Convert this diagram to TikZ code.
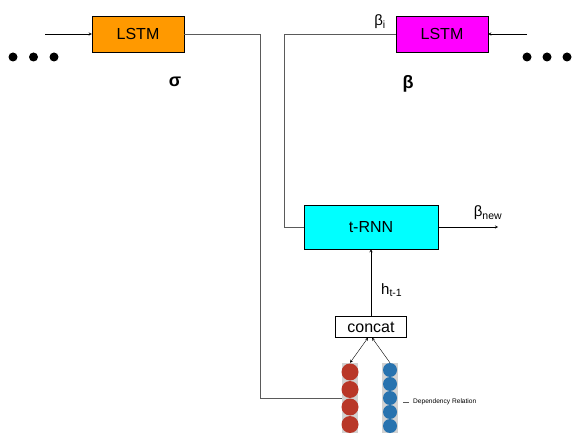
\documentclass[tikz,border=0pt]{standalone}
\usepackage{fontspec}
\setmainfont{Liberation Sans}
\usetikzlibrary{arrows}
\definecolor{lstmorange}{RGB}{255,153,0}
\definecolor{lstmpink}{RGB}{255,0,255}
\definecolor{rnncyan}{RGB}{0,255,255}
\definecolor{ballred}{RGB}{185,55,40}
\definecolor{ballblue}{RGB}{40,115,175}
\definecolor{wiregray}{RGB}{90,90,90}
\tikzstyle{box} = [rectangle, draw=black, text centered, inner sep=0, font=\fontsize{16}{16}\selectfont]
\tikzstyle{dot} = [shape=circle, minimum size=9pt, inner sep=0, fill=black]
\tikzstyle{arrow} = [thin,->,>=stealth]
\tikzstyle{wire} = [thin,wiregray]
\tikzstyle{column} = [rectangle, minimum width=16pt, minimum height=70pt, inner sep=0, fill=gray!35]
\tikzstyle{redball} = [shape=circle, minimum size=17pt, inner sep=0, fill=ballred]
\tikzstyle{blueball} = [shape=circle, minimum size=14pt, inner sep=0, fill=ballblue]
\tikzstyle{lbl} = [inner sep=0, font=\fontsize{15}{15}\selectfont]

\begin{document}
\begin{tikzpicture}[x=1pt,y=-1pt]
\useasboundingbox (0,0) rectangle (573,438);

% the two LSTMs
\node[box, fill=lstmorange, minimum width=92pt, minimum height=36pt] (lstmL) at (138,34) {LSTM};
\node[box, fill=lstmpink, minimum width=92pt, minimum height=36pt] (lstmR) at (442,34) {LSTM};
\coordinate (inL) at (45,34);
\coordinate (inR) at (527,34);
\draw[arrow] (inL) -- (lstmL.west);
\draw[arrow] (inR) -- (lstmR.east);

\foreach \x in {0,1,2}{
	\node[dot] (dl\x) at (13+20.5*\x,57) {};
	\node[dot] (dr\x) at (527+20*\x,57) {};
	}

\node[lbl, font=\bfseries\fontsize{18}{18}\selectfont] (sig) at (175,82) {σ};
\node[lbl, font=\bfseries\fontsize{18}{18}\selectfont] (bet) at (408,84) {β};
\node[lbl, anchor=south east] (betai) at (386,29) {β\textsubscript{i}};

% t-RNN and its output
\node[box, fill=rnncyan, minimum width=134pt, minimum height=44pt] (trnn) at (371,227) {t-RNN};
\coordinate (out) at (498,227);
\draw[arrow] (trnn.east) -- (out);
\node[lbl] (betanew) at (488,213) {β\textsubscript{new}};

% concat and the embeddings
\node[box, minimum width=71pt, minimum height=21pt] (concat) at (371,327) {concat};
\draw[arrow] (concat.north) -- (trnn.south);
\node[lbl, anchor=west] (hprev) at (381,290) {h\textsubscript{t-1}};

\node[column] (redcol) at (350,398) {};
\node[column] (bluecol) at (390,398) {};
\foreach \k in {0,...,3}
	\node[redball] (r\k) at (350,372+17.5*\k) {};
\foreach \k in {0,...,4}
	\node[blueball] (b\k) at (390,370+14*\k) {};
\draw[thin,<->,>=stealth] ([xshift=-3pt]concat.south) -- (redcol.north);
\draw[arrow] (bluecol.north) -- ([xshift=1pt]concat.south);

\node[inner sep=0, anchor=west, font=\fontsize{6.6}{6.6}\selectfont] (deprel) at (413,402) {Dependency Relation};
\draw[wire, thick] (deprel.west) ++(-4,0) -- ++(-6,0);

% wires from the LSTMs
\coordinate (bendL) at (260,398);
\coordinate (bendR) at (284,227);
\draw[wire] (lstmL.east) -| (bendL) -- (redcol.west);
\draw[wire] (lstmR.west) -| (bendR) -- (trnn.west);
\end{tikzpicture}
\end{document}
